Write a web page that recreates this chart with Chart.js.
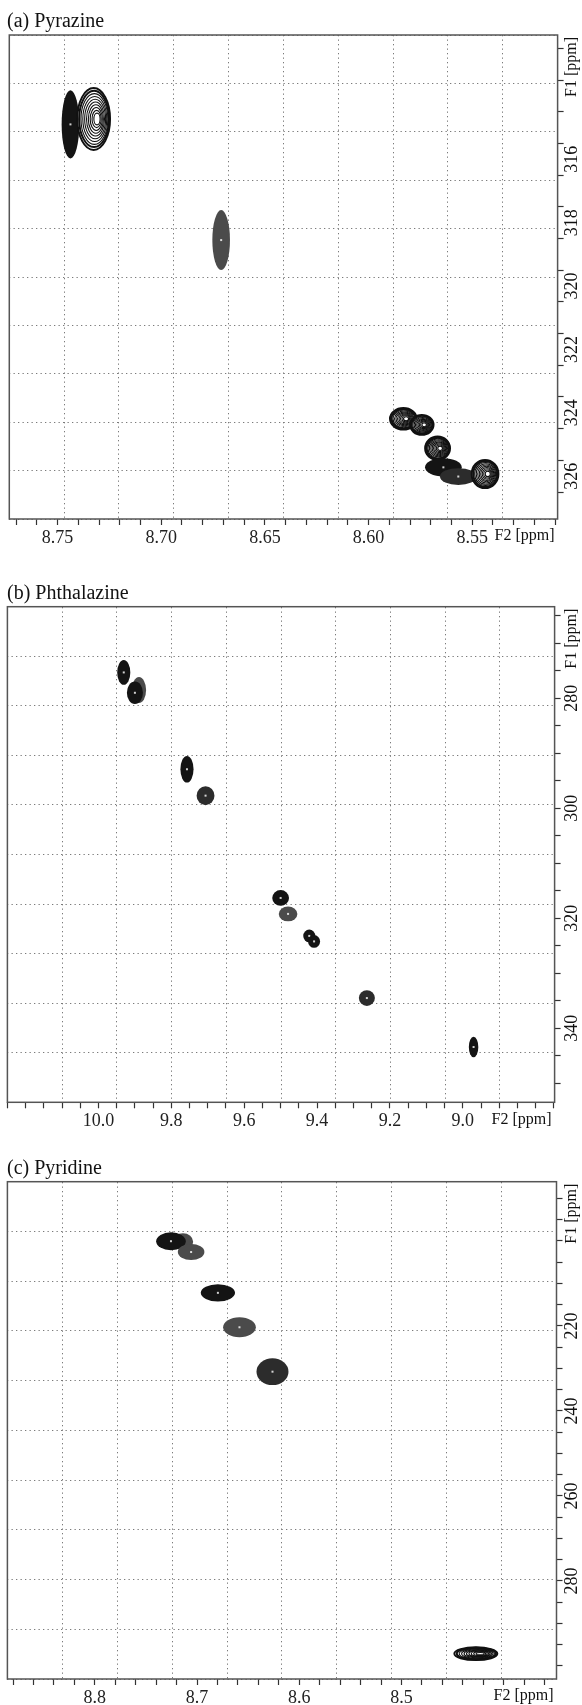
<!DOCTYPE html>
<html>
<head>
<meta charset="utf-8">
<script src="https://cdn.jsdelivr.net/npm/chart.js@4.4.1/dist/chart.umd.min.js"></script>
<style>
  body { margin: 0; background: #fff; }
  #page { position: relative; width: 582px; height: 1705px; }
  canvas { position: absolute; left: 0; }
</style>
</head>
<body>
<div id="page">
  <canvas id="chartA" width="582" height="560" style="top:0px"></canvas>
  <canvas id="chartB" width="582" height="575" style="top:560px"></canvas>
  <canvas id="chartC" width="582" height="570" style="top:1135px"></canvas>
</div>
<script>
// (a) Pyrazine - peak centres (F2, F1 in ppm), extents (ppm), tone
const aPeakX = [8.7438, 8.7326, 8.6711, 8.5832, 8.5743, 8.5667, 8.5639, 8.5567, 8.5438];
const aPeakY = [314.90, 314.73, 318.55, 324.19, 324.38, 325.12, 325.72, 326.01, 325.93];
const aPeakW = [0.0085, 0.0158, 0.0085, 0.0129, 0.0113, 0.0120, 0.0177, 0.0177, 0.0129];
const aPeakH = [2.15, 1.95, 1.89, 0.68, 0.63, 0.74, 0.58, 0.53, 0.89];
const aPeakTone = ['k', 'c', 'g', 'c', 'c', 'c', 'k', 'd', 'c'];
const aTicksX = [8.75, 8.70, 8.65, 8.60, 8.55];
const aTicksY = [316, 318, 320, 322, 324, 326];

// (b) Phthalazine
const bPeakX = [9.9306, 9.8888, 9.9000, 9.7571, 9.7061, 9.5000, 9.4796, 9.4214, 9.4082, 9.2633, 8.9704];
const bPeakY = [275.3, 278.5, 279.0, 292.9, 297.7, 316.3, 319.2, 323.2, 324.2, 334.5, 343.4];
const bPeakW = [0.036, 0.039, 0.044, 0.036, 0.049, 0.046, 0.051, 0.033, 0.033, 0.044, 0.026];
const bPeakH = [4.5, 4.7, 4.1, 4.85, 3.45, 2.85, 2.7, 2.3, 2.3, 2.85, 3.75];
const bPeakTone = ['k', 'g', 'k', 'k', 'd', 'k', 'g', 'k', 'k', 'd', 'k'];
const bTicksX = [10.0, 9.8, 9.6, 9.4, 9.2, 9.0];
const bTicksY = [280, 300, 320, 340];

// (c) Pyridine
const cPeakX = [8.7138, 8.7255, 8.7058, 8.6796, 8.6585, 8.6262, 8.4273];
const cPeakY = [200.2, 200.05, 202.6, 212.2, 220.3, 230.75, 297.1];
const cPeakW = [0.020, 0.029, 0.026, 0.0335, 0.032, 0.0313, 0.042];
const cPeakH = [4.0, 4.2, 3.8, 4.1, 4.7, 6.3, 3.0];
const cPeakTone = ['g', 'k', 'g', 'k', 'g', 'd', 'c'];
const cTicksX = [8.8, 8.7, 8.6, 8.5];
const cTicksY = [220, 240, 260, 280];

const FONT = '"Liberation Serif", "Times New Roman", serif';
const TONES = { k: '#141414', d: '#2c2c2c', g: '#4b4b4b' };

const peakPlugin = {
  id: 'peaks',
  afterDatasetsDraw(chart) {
    const ctx = chart.ctx;
    const x = chart.scales.x, y = chart.scales.y;
    const area = chart.chartArea;
    ctx.save();
    ctx.beginPath();
    ctx.rect(area.left, area.top, area.right - area.left, area.bottom - area.top);
    ctx.clip();
    chart.data.datasets[0].data.forEach(p => {
      const cx = x.getPixelForValue(p.x);
      const cy = y.getPixelForValue(p.y);
      const rx = Math.abs(x.getPixelForValue(p.x + p.w / 2) - cx);
      const ry = Math.abs(y.getPixelForValue(p.y + p.h / 2) - cy);
      if (p.tone === 'c') {
        // contour rings
        ctx.fillStyle = '#fff';
        ctx.beginPath();
        ctx.ellipse(cx, cy, rx, ry, 0, 0, Math.PI * 2);
        ctx.fill();
        ctx.strokeStyle = '#111';
        for (let i = 0; i < 10; i++) {
          const k = 1 - i * 0.09;
          ctx.lineWidth = i < 2 ? 2 : 1.1;
          ctx.beginPath();
          ctx.ellipse(cx + (1 - k) * rx * 0.25, cy, rx * k, ry * k, 0, 0, Math.PI * 2);
          ctx.stroke();
        }
      } else {
        ctx.fillStyle = TONES[p.tone];
        ctx.beginPath();
        ctx.ellipse(cx, cy, rx, ry, 0, 0, Math.PI * 2);
        ctx.fill();
        ctx.fillStyle = 'rgba(255,255,255,0.8)';
        ctx.fillRect(cx - 1, cy - 1, 2, 2);
      }
    });
    ctx.restore();
  }
};

const decorPlugin = {
  id: 'decor',
  afterDraw(chart, args, opts) {
    const ctx = chart.ctx;
    const area = chart.chartArea;
    const y = chart.scales.y;
    ctx.save();
    // frame
    ctx.strokeStyle = '#555';
    ctx.lineWidth = 1.5;
    ctx.strokeRect(area.left, area.top, area.right - area.left, area.bottom - area.top);
    // panel title
    ctx.fillStyle = '#111';
    ctx.font = '20px ' + FONT;
    ctx.textAlign = 'left';
    ctx.textBaseline = 'alphabetic';
    ctx.fillText(opts.title, 7, area.top - 8);
    // F2 label
    ctx.font = '16px ' + FONT;
    ctx.textAlign = 'right';
    ctx.textBaseline = 'middle';
    ctx.fillText('F2 [ppm]', area.right - 3, area.bottom + 17);
    // rotated y labels
    ctx.font = '18px ' + FONT;
    ctx.textAlign = 'center';
    opts.yLabels.forEach(v => {
      const py = y.getPixelForValue(v);
      if (py < area.top || py > area.bottom) return;
      ctx.save();
      ctx.translate(572, py);
      ctx.rotate(-Math.PI / 2);
      ctx.fillText(String(v), 0, 0);
      ctx.restore();
    });
    ctx.font = '16px ' + FONT;
    ctx.save();
    ctx.translate(572, area.top + 32);
    ctx.rotate(-Math.PI / 2);
    ctx.fillText('F1 [ppm]', 0, 0);
    ctx.restore();
    ctx.restore();
  }
};

function stepTicks(scale, step) {
  const out = [];
  const k0 = Math.ceil(scale.min / step - 1e-6);
  const k1 = Math.floor(scale.max / step + 1e-6);
  for (let k = k0; k <= k1; k++) out.push({ value: +(k * step).toFixed(6) });
  scale.ticks = out;
}

function makeChart(id, p) {
  const page = { top: p.canvasTop, height: p.canvasHeight };
  const data = p.px.map((v, i) => ({ x: v, y: p.py[i], w: p.pw[i], h: p.ph[i], tone: p.tone[i] }));
  const gridLine = { color: '#7a7a7a', lineWidth: 1, drawTicks: false };
  new Chart(document.getElementById(id), {
    type: 'scatter',
    data: { datasets: [{ data: data, pointRadius: 0, pointHoverRadius: 0 }] },
    options: {
      responsive: false,
      animation: false,
      devicePixelRatio: 1,
      layout: { padding: { top: p.frame.top - page.top, left: p.frame.left, right: 0, bottom: 0 } },
      plugins: {
        legend: { display: false },
        tooltip: { enabled: false },
        decor: { title: p.title, yLabels: p.yLabels }
      },
      scales: {
        x: {
          type: 'linear', position: 'bottom', reverse: true,
          min: p.xMin, max: p.xMax,
          afterBuildTicks: s => stepTicks(s, p.xStep),
          afterFit: s => { s.height = page.top + page.height - p.frame.bottom; },
          border: { display: false },
          grid: { drawOnChartArea: false, drawTicks: true, tickLength: 6, tickColor: '#333', tickWidth: 1.2 },
          ticks: {
            autoSkip: false, maxRotation: 0, minRotation: 0, padding: 2,
            color: '#222', font: { family: FONT, size: 18 },
            callback: v => p.xLabels.some(t => Math.abs(t - v) < 1e-6) ? v.toFixed(p.xDec) : ''
          }
        },
        y: {
          type: 'linear', position: 'right', reverse: true,
          min: p.yMin, max: p.yMax,
          afterBuildTicks: s => stepTicks(s, p.yStep),
          afterFit: s => { s.width = 582 - p.frame.right; },
          border: { display: false },
          grid: { drawOnChartArea: false, drawTicks: true, tickLength: 6, tickColor: '#333', tickWidth: 1.2 },
          ticks: { callback: () => '' }
        },
        gx: {
          type: 'linear', position: 'top', min: 0, max: 10,
          afterBuildTicks: s => stepTicks(s, 1),
          afterFit: s => { s.height = 0; },
          border: { display: false, dash: [1.3, 3.2] },
          grid: gridLine,
          ticks: { display: false }
        },
        gy: {
          type: 'linear', position: 'left', min: 0, max: 10,
          afterBuildTicks: s => stepTicks(s, 1),
          afterFit: s => { s.width = 0; },
          border: { display: false, dash: [1.3, 3.2] },
          grid: gridLine,
          ticks: { display: false }
        }
      }
    },
    plugins: [peakPlugin, decorPlugin]
  });
}

makeChart('chartA', {
  title: '(a) Pyrazine', canvasTop: 0, canvasHeight: 560,
  frame: { left: 9.3, top: 35, right: 557.6, bottom: 519 },
  xMin: 8.5088, xMax: 8.7733, xStep: 0.01, xLabels: aTicksX, xDec: 2,
  yMin: 312.08, yMax: 327.35, yStep: 0.5, yLabels: aTicksY,
  px: aPeakX, py: aPeakY, pw: aPeakW, ph: aPeakH, tone: aPeakTone
});

makeChart('chartB', {
  title: '(b) Phthalazine', canvasTop: 560, canvasHeight: 575,
  frame: { left: 7.4, top: 606.7, right: 554.6, bottom: 1102.3 },
  xMin: 8.748, xMax: 10.25, xStep: 0.05, xLabels: bTicksX, xDec: 1,
  yMin: 263.35, yMax: 353.45, yStep: 5, yLabels: bTicksY,
  px: bPeakX, py: bPeakY, pw: bPeakW, ph: bPeakH, tone: bPeakTone
});

makeChart('chartC', {
  title: '(c) Pyridine', canvasTop: 1135, canvasHeight: 570,
  frame: { left: 7.4, top: 1181.7, right: 556.5, bottom: 1679 },
  xMin: 8.3484, xMax: 8.8855, xStep: 0.02, xLabels: cTicksX, xDec: 1,
  yMin: 186.05, yMax: 303.06, yStep: 5, yLabels: cTicksY,
  px: cPeakX, py: cPeakY, pw: cPeakW, ph: cPeakH, tone: cPeakTone
});
</script>
</body>
</html>
